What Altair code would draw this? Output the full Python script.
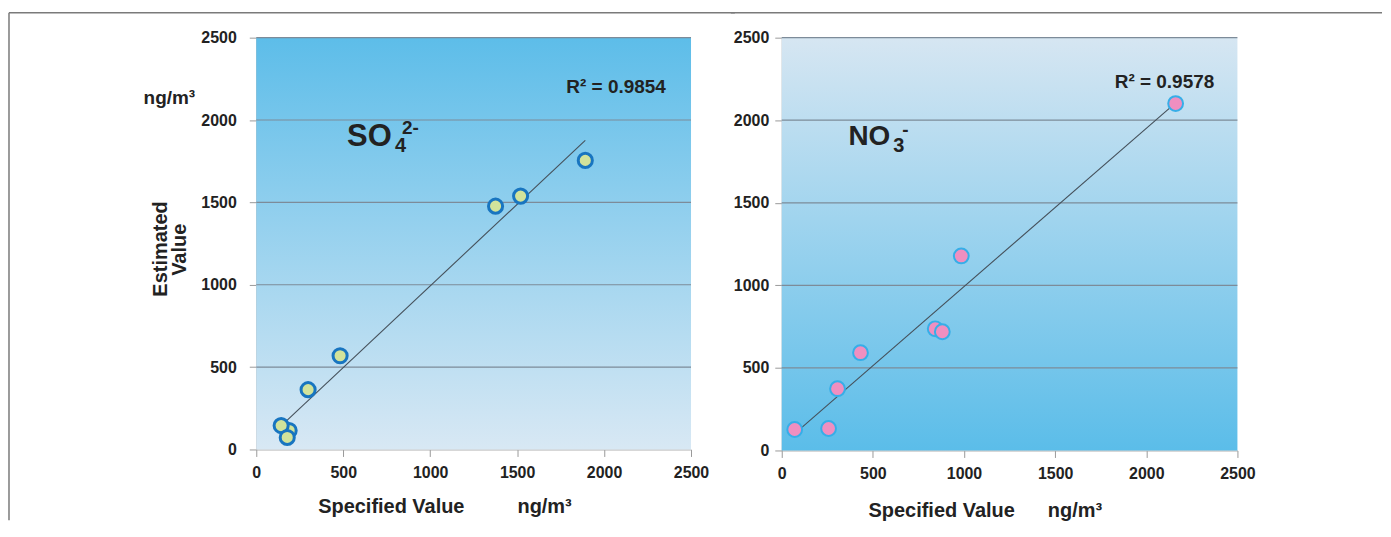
import altair as alt
import pandas as pd

# ---------------- data ----------------
so4_specified = [189, 143, 178, 298, 482, 1376, 1520, 1892]
so4_estimated = [115, 145, 73, 363, 569, 1477, 1538, 1755]
no3_specified = [71, 257, 306, 432, 842, 881, 985, 2161]
no3_estimated = [127, 133, 374, 592, 737, 719, 1178, 2101]
tick_values = [0, 500, 1000, 1500, 2000, 2500]
so4_r2 = "R² = 0.9854"
no3_r2 = "R² = 0.9578"

FONT = "Liberation Sans, Arial, sans-serif"
TXT = "#222222"
GRID = "#7d8b99"
FRAME = "#7a7a7a"


def panel(xs, ys, width, height, stops, fill, stroke, sw, size,
          ion, sub, sup, ion_pos, ion_fs, sub_off, sup_off, r2, r2_pos,
          xt_pos, ng_pos, ytitle, frame, label_pad_y):
    df = pd.DataFrame({"x": xs, "y": ys})
    xscale = alt.Scale(domain=[0, 2500], nice=False, zero=False)
    yscale = alt.Scale(domain=[0, 2500], nice=False, zero=False)
    xaxis = alt.Axis(values=tick_values, title="", grid=False, format="d", labelFont=FONT,
                     labelFontSize=16, labelFontWeight="bold", labelColor=TXT,
                     tickSize=7, tickColor="#9a9a9a", domainColor="#a8a8a8",
                     labelPadding=8, labelFlush=False)
    yaxis = alt.Axis(values=tick_values, title="", grid=False, format="d", labelFont=FONT,
                     labelFontSize=16, labelFontWeight="bold", labelColor=TXT,
                     tickSize=7, tickColor="#9a9a9a", domainColor="#a8a8a8",
                     labelPadding=label_pad_y, labelFlush=False)

    def X(f="x"):
        return alt.X(f + ":Q", scale=xscale, axis=xaxis)

    def Y(f="y"):
        return alt.Y(f + ":Q", scale=yscale, axis=yaxis)

    bgdf = pd.DataFrame({"x": [0], "x2": [2500], "y": [0], "y2": [2500]})
    bg = alt.Chart(bgdf).mark_rect(
        color=alt.Gradient(gradient="linear", x1=0, x2=0, y1=0, y2=1,
                           stops=[alt.GradientStop(offset=0, color=stops[0]),
                                  alt.GradientStop(offset=1, color=stops[1])])
    ).encode(x=X(), x2="x2:Q", y=Y(), y2="y2:Q")

    grid = alt.Chart(pd.DataFrame({"t": tick_values[1:]})).mark_rule(
        color=GRID, strokeWidth=1.2
    ).encode(y=Y("t"))

    trend = alt.Chart(df).transform_regression("x", "y").mark_line(
        color="#45505a", strokeWidth=1.1
    ).encode(x=X(), y=Y())

    pts = alt.Chart(df).mark_point(
        shape="circle", filled=False, fill=fill, stroke=stroke, strokeWidth=sw,
        size=size, opacity=1, fillOpacity=1
    ).encode(x=X(), y=Y())

    def txt(s, pos, fs, dx=0, dy=0, weight="bold", angle=0, align="left", baseline="alphabetic"):
        d = pd.DataFrame({"x": [pos[0]], "y": [pos[1]], "s": [s]})
        kw = dict(font=FONT, fontSize=fs, fontWeight=weight, color=TXT,
                  align=align, baseline=baseline, dx=dx, dy=dy)
        if angle:
            kw["angle"] = angle
        return alt.Chart(d).mark_text(**kw).encode(x=X(), y=Y(), text="s:N")

    layers = [bg, grid, trend, pts,
              txt(ion, ion_pos, ion_fs),
              txt(sub, ion_pos, 20, dx=sub_off[0], dy=sub_off[1]),
              txt(sup, ion_pos, 19, dx=sup_off[0], dy=sup_off[1]),
              txt(r2, r2_pos, 19),
              txt("Specified Value", xt_pos, 20),
              txt("ng/m³", ng_pos, 20)]
    if ytitle:
        layers += [txt("ng/m³", (-648, 2100), 19),
                   txt("Estimated", (-545, 1217), 20, angle=270, align="center", baseline="middle"),
                   txt("Value", (-436, 1212), 20, angle=270, align="center", baseline="middle")]

    fx0, fx1, fy0, fy1 = frame
    layers.append(alt.Chart(bgdf).mark_rule(color=FRAME, strokeWidth=1.5).encode(
        x=alt.value(fx0), x2=alt.value(fx1), y=alt.value(fy0)))
    if fy1 is not None:
        layers.append(alt.Chart(bgdf).mark_rule(color=FRAME, strokeWidth=1.5).encode(
            x=alt.value(fx0), y=alt.value(fy0), y2=alt.value(fy1)))

    return alt.layer(*layers).properties(width=width, height=height)


left = panel(so4_specified, so4_estimated, 436, 413,
             ["#5dbde9", "#d8e8f4"], "#d2e39b", "#1875c0", 3, 200,
             "SO", "4", "2-", (522, 1840), 31, (48, 6), (55, -12), so4_r2, (1783, 2167),
             (356, -387), (1502, -387), True, (-248, 480, -25, 484), 13)

right = panel(no3_specified, no3_estimated, 457, 414,
              ["#d6e6f2", "#5bbde9"], "#ef8fc0", "#36aee8", 2, 220,
              "NO", "3", "-", (366, 1848), 28, (45, 7), (54, -9), no3_r2, (1827, 2198),
              (476, -405), (1460, -405), False, (-51, 602, -25, None), 6)

chart = alt.hconcat(left, right, spacing=-6).properties(
    padding={"left": 0, "top": 3, "right": 0, "bottom": 0}
).configure_view(strokeWidth=0)

chart.save("out.html", embed_options={"renderer": "svg", "actions": False})
